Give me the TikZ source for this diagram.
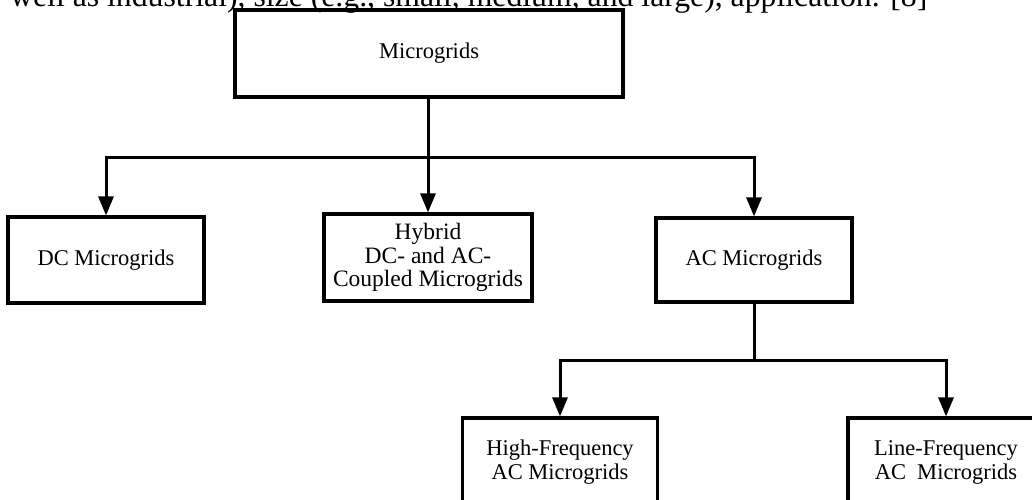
\documentclass[tikz,border=0pt]{standalone}
\usepackage{fontspec}
\setmainfont{Liberation Serif}
\usetikzlibrary{arrows.meta}
\begin{document}
\begin{tikzpicture}[x=1pt,y=-1pt,
  box/.style={draw=black, line width=3.2pt, fill=white, align=center, inner sep=0pt,
    font=\fontsize{22.5}{24}\selectfont},
  link/.style={line width=3pt},
  arr/.style={line width=3pt, -{Triangle[length=19pt,width=15pt]}}]
\useasboundingbox (0,0) rectangle (1032,499);
\clip (0,0) rectangle (1032,499);
\fill[white] (0,0) rectangle (1032,499);
% boxes
\node[box, minimum width=388pt, minimum height=87pt] (top) at (429,53.5) {Microgrids};
\node[box, minimum width=196pt, minimum height=86pt] (dc) at (106,260) {DC Microgrids};
\node[box, minimum width=208pt, minimum height=87pt,
  font=\fontsize{23.5}{23.5}\selectfont] (hy) at (428,257.5) {Hybrid\\DC- and AC-\\Coupled Microgrids};
\node[box, minimum width=196pt, minimum height=84pt] (ac) at (754,260) {AC Microgrids};
\node[box, minimum width=195pt, minimum height=88pt] (hf) at (560,462) {High-Frequency\\AC Microgrids};
\node[box, minimum width=196pt, minimum height=88pt] (lf) at (946,462) {Line-Frequency\\AC\ \ Microgrids};
% junctions
\coordinate (j1) at (428,157);
\coordinate (j2) at (754,360);
% connectors
\draw[link] (top.south -| j1) -- (j1);
\draw[arr] (j1) -- (hy.north);
\draw[arr] (j1) -| (dc.north);
\draw[arr] (j1) -| (ac.north);
\draw[link] (ac.south) -- (j2);
\draw[arr] (j2) -| (hf.north);
\draw[arr] (j2) -| (lf.north);
% cut-off line of running text at the top
\node[anchor=base west, inner sep=0pt] (para) at (10,6)
  {\resizebox{917pt}{!}{\fontsize{31}{34}\selectfont well as industrial), size (e.g., small, medium, and large), application. [8]}};
\end{tikzpicture}
\end{document}
